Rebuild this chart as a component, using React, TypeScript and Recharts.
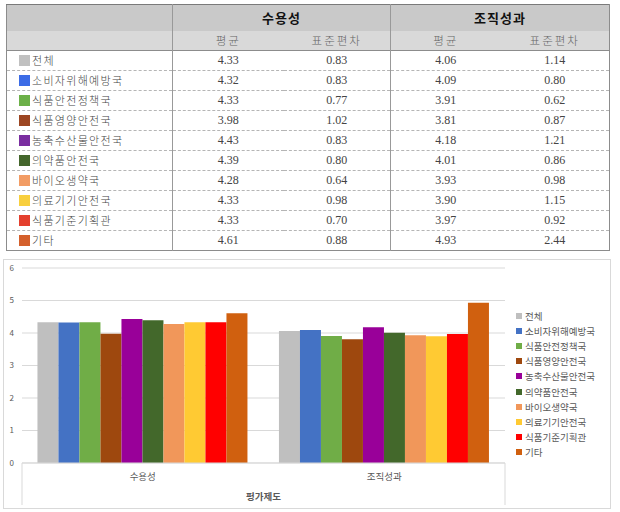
import React from "react";
import { BarChart, Bar, XAxis, YAxis, CartesianGrid, Legend } from "recharts";

// ---------------------------------------------------------------------------
// Data
// ---------------------------------------------------------------------------
const departments = [
  "전체",
  "소비자위해예방국",
  "식품안전정책국",
  "식품영양안전국",
  "농축수산물안전국",
  "의약품안전국",
  "바이오생약국",
  "의료기기안전국",
  "식품기준기획관",
  "기타",
];
const groups = ["수용성", "조직성과"];
const statHeaders = ["평균", "표준편차"];
const axisTitle = "평가제도";

const acceptanceMean = [4.33, 4.32, 4.33, 3.98, 4.43, 4.39, 4.28, 4.33, 4.33, 4.61];
const acceptanceSd = [0.83, 0.83, 0.77, 1.02, 0.83, 0.8, 0.64, 0.98, 0.7, 0.88];
const performanceMean = [4.06, 4.09, 3.91, 3.81, 4.18, 4.01, 3.93, 3.9, 3.97, 4.93];
const performanceSd = [1.14, 0.8, 0.62, 0.87, 1.21, 0.86, 0.98, 1.15, 0.92, 2.44];

const yTicks = [0, 1, 2, 3, 4, 5, 6];

// colours
const barColors = [
  "#BFBFBF", "#4472C4", "#70AD47", "#9E480E", "#990099",
  "#43682B", "#F1975A", "#FFCA33", "#FF0000", "#D0600F",
];
const swatchColors = [
  "#C0C0C0", "#3C6CE6", "#6CB048", "#9C4622", "#7A2EA0",
  "#44662C", "#F29C64", "#F8CF3E", "#E4402E", "#D4602C",
];

const chartData = groups.map((g, gi) => {
  const row: Record<string, string | number> = { group: g };
  departments.forEach((d, i) => {
    row[d] = gi === 0 ? acceptanceMean[i] : performanceMean[i];
  });
  return row;
});

const SANS = '"Noto Sans CJK KR", "Noto Sans", sans-serif';
const SERIF = '"Liberation Serif", "Noto Sans CJK KR", serif';

// ---------------------------------------------------------------------------
// Table
// ---------------------------------------------------------------------------
function StatsTable() {
  const vLine = "1px solid #999";
  const dash = "1px dashed #B5B5B5";
  const head2: React.CSSProperties = {
    background: "#D9D9D9",
    color: "#666",
    fontSize: 11.5,
    letterSpacing: 2,
    textAlign: "center",
    fontWeight: 300,
    padding: 0,
    height: 19,
  };
  const num: React.CSSProperties = {
    textAlign: "center",
    fontSize: 12,
    color: "#444",
    borderTop: dash,
    padding: 0,
    height: 19,
    fontFamily: SERIF,
  };
  return (
    <table
      style={{
        position: "absolute",
        left: 6,
        top: 4,
        width: 603,
        borderCollapse: "collapse",
        tableLayout: "fixed",
        border: "1px solid #8C8C8C",
        borderTop: "1.5px solid #7A7A7A",
        fontFamily: SANS,
      }}
    >
      <colgroup>
        <col style={{ width: 166 }} />
        <col style={{ width: 111 }} />
        <col style={{ width: 107 }} />
        <col style={{ width: 110 }} />
        <col style={{ width: 109 }} />
      </colgroup>
      <thead>
        <tr style={{ height: 26 }}>
          <th style={{ background: "#C9C9C9", padding: 0 }} />
          {groups.map((g) => (
            <th
              key={g}
              colSpan={2}
              style={{
                background: "#C9C9C9",
                borderLeft: vLine,
                fontSize: 13,
                fontWeight: 700,
                color: "#111",
                letterSpacing: 1,
                padding: 0,
              }}
            >
              {g}
            </th>
          ))}
        </tr>
        <tr style={{ borderBottom: "1px solid #8C8C8C" }}>
          <th style={head2} />
          {groups.map((g) =>
            statHeaders.map((s, si) => (
              <th key={g + s} style={{ ...head2, borderLeft: si === 0 ? vLine : undefined }}>
                {s}
              </th>
            ))
          )}
        </tr>
      </thead>
      <tbody>
        {departments.map((d, i) => (
          <tr key={d}>
            <td
              style={{
                borderTop: i === 0 ? undefined : dash,
                padding: "0 0 0 12px",
                fontSize: 11,
                letterSpacing: 1.3,
                color: "#444",
                fontWeight: 300,
                height: 19,
                whiteSpace: "nowrap",
              }}
            >
              <span
                style={{
                  display: "inline-block",
                  width: 11,
                  height: 11,
                  background: swatchColors[i],
                  verticalAlign: "-1px",
                  marginRight: 2,
                }}
              />
              {d}
            </td>
            {[acceptanceMean[i], acceptanceSd[i], performanceMean[i], performanceSd[i]].map((v, ci) => (
              <td
                key={ci}
                style={{
                  ...num,
                  borderTop: i === 0 ? undefined : dash,
                  borderLeft: ci % 2 === 0 ? vLine : undefined,
                }}
              >
                {v.toFixed(2)}
              </td>
            ))}
          </tr>
        ))}
      </tbody>
    </table>
  );
}

// ---------------------------------------------------------------------------
// Chart pieces
// ---------------------------------------------------------------------------
function GroupTick(props: any) {
  const { x, y, payload, index, visibleTicksCount } = props;
  const half = payload?.offset ?? 0;
  return (
    <g>
      <text x={x} y={y + 17} textAnchor="middle" fontSize={9.5} fill="#595959" fontFamily={SANS}>
        {payload.value}
      </text>
      {index === 0 && (
        <line x1={x - half} x2={x - half} y1={y} y2={y + 42} stroke="#D9D9D9" />
      )}
      {index === visibleTicksCount - 1 && (
        <line x1={x + half} x2={x + half} y1={y} y2={y + 42} stroke="#D9D9D9" />
      )}
    </g>
  );
}

function SideLegend() {
  return (
    <ul style={{ listStyle: "none", margin: 0, padding: 0 }}>
      {departments.map((d, i) => (
        <li
          key={d}
          style={{
            height: 15.1,
            display: "flex",
            alignItems: "center",
            fontSize: 9.5,
            color: "#595959",
            fontFamily: SANS,
            whiteSpace: "nowrap",
          }}
        >
          <span style={{ width: 6, height: 6, background: barColors[i], marginRight: 3, flex: "none" }} />
          {d}
        </li>
      ))}
    </ul>
  );
}

export default function App() {
  return (
    <div
      style={{
        position: "absolute",
        left: 0,
        top: 0,
        width: 620,
        height: 512,
        background: "#fff",
        overflow: "hidden",
      }}
    >
      <StatsTable />
      <div
        style={{
          position: "absolute",
          left: 3,
          top: 259,
          width: 606,
          height: 248,
          border: "1px solid #D9D9D9",
        }}
      >
        <BarChart
          width={606}
          height={248}
          data={chartData}
          margin={{ top: 8, right: 11, bottom: 0, left: 0 }}
          barCategoryGap="6.4%"
          barGap={0}
        >
          <CartesianGrid vertical={false} stroke="#D9D9D9" />
          <XAxis
            dataKey="group"
            height={45}
            tickLine={false}
            tickSize={0}
            tickMargin={0}
            axisLine={{ stroke: "#D9D9D9" }}
            tick={<GroupTick />}
            label={{
              value: axisTitle,
              position: "insideBottom",
              offset: 8,
              fontSize: 9.5,
              fontWeight: 700,
              fill: "#595959",
              fontFamily: SANS,
            }}
          />
          <YAxis
            width={18}
            domain={[0, 6]}
            ticks={yTicks}
            axisLine={false}
            tickLine={false}
            tick={{ fontSize: 8, fill: "#595959", fontFamily: SANS }}
          />
          <Legend
            layout="vertical"
            align="right"
            verticalAlign="middle"
            content={() => <SideLegend />}
            wrapperStyle={{ left: 512, width: 94 }}
          />
          {departments.map((d, i) => (
            <Bar key={d} dataKey={d} fill={barColors[i]} isAnimationActive={false} />
          ))}
        </BarChart>
      </div>
    </div>
  );
}
